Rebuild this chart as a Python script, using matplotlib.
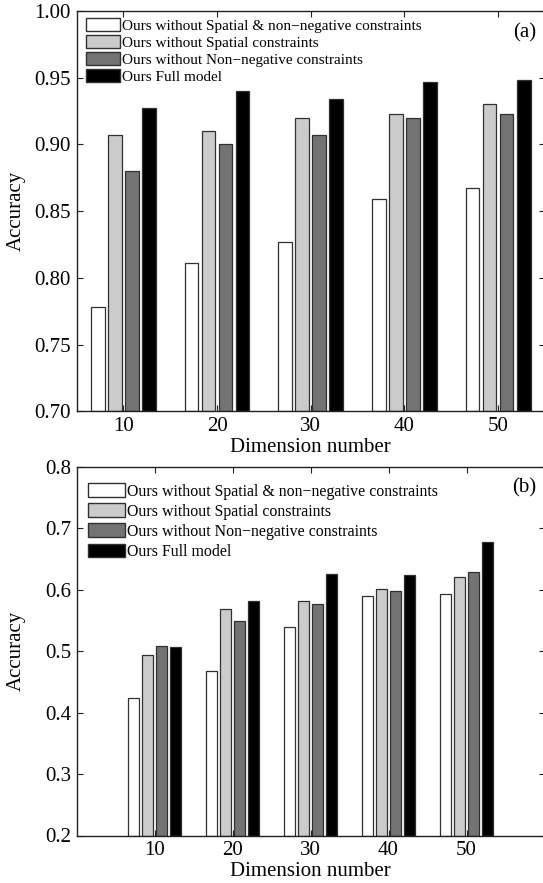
import matplotlib
matplotlib.use("Agg")
import matplotlib.pyplot as plt
import numpy as np

plt.rcParams['font.family'] = ['Liberation Serif', 'DejaVu Serif']
plt.rcParams['mathtext.fontset'] = 'stix'

dims = [10, 20, 30, 40, 50]
series_names = ["Ours without Spatial & non\u2212negative constraints",
                "Ours without Spatial constraints",
                "Ours without Non\u2212negative constraints",
                "Ours Full model"]

# Panel (a)
acc_a_no_spatial_nonneg = [0.778, 0.811, 0.827, 0.859, 0.867]
acc_a_no_spatial = [0.907, 0.910, 0.920, 0.923, 0.930]
acc_a_no_nonneg = [0.880, 0.900, 0.907, 0.920, 0.923]
acc_a_full = [0.927, 0.940, 0.934, 0.947, 0.948]

# Panel (b)
acc_b_no_spatial_nonneg = [0.423, 0.467, 0.539, 0.589, 0.593]
acc_b_no_spatial = [0.493, 0.568, 0.581, 0.601, 0.620]
acc_b_no_nonneg = [0.508, 0.549, 0.576, 0.597, 0.628]
acc_b_full = [0.507, 0.582, 0.625, 0.623, 0.677]

yticks_a = [0.70, 0.75, 0.80, 0.85, 0.90, 0.95, 1.00]
yticks_b = [0.2, 0.3, 0.4, 0.5, 0.6, 0.7, 0.8]

colors = ['#ffffff', '#cbcbcb', '#737373', '#000000']
edge = '#303030'

W, H = 543, 883
fig = plt.figure(figsize=(W / 100, H / 100), dpi=100)

ax_a = fig.add_axes([76.5 / W, (H - 411.3) / H, 468.5 / W, 400.3 / H])
ax_b = fig.add_axes([76.5 / W, (H - 835.5) / H, 468 / W, 368.8 / H])

FS = 15


def draw(ax, data, yticks, ylim, xlim, fmt, tag, tag_y, legfs, leg_anchor,
         labelspacing, handleheight, handlelength, axw):
    n = len(data)
    spacing = 10.0
    gw = min(0.8, n / (n + 1.5))
    slot = gw / n * spacing
    bw = slot * 0.8
    x = np.array(dims, dtype=float)
    handles = []
    for i, vals in enumerate(data):
        off = (-gw / 2 + (2 * i + 1) * gw / (2 * n)) * spacing
        b = ax.bar(x + off, np.array(vals) - ylim[0], bottom=ylim[0], width=bw,
                   color=colors[i], edgecolor=edge, linewidth=0.9,
                   label=series_names[i], zorder=2)
        handles.append(b)
    ax.set_xlim(*xlim)
    ax.set_ylim(*ylim)
    ax.set_xticks(dims)
    ax.set_xticklabels([str(d) for d in dims])
    ax.set_yticks(yticks)
    ax.set_yticklabels([fmt.format(t) for t in yticks])
    ax.tick_params(direction='in', length=4, width=0.8, top=True, right=True,
                   labelsize=FS, pad=4, color='#202020')
    for s in ax.spines.values():
        s.set_linewidth(1.0)
        s.set_color('#202020')
    ax.set_ylabel('Accuracy', fontsize=FS)
    ax.yaxis.set_label_coords((26 - 76.5) / axw, 0.5)
    ax.set_xlabel('Dimension number', fontsize=FS, labelpad=1.5)
    ax.text(0.957, tag_y, tag, transform=ax.transAxes, ha='center', va='center', fontsize=FS)
    leg = ax.legend(handles=handles, loc='upper left', bbox_to_anchor=leg_anchor,
                    frameon=False, fontsize=legfs, handlelength=handlelength,
                    handleheight=handleheight, handletextpad=0.12,
                    labelspacing=labelspacing, borderpad=0, borderaxespad=0)
    for p in leg.get_patches():
        p.set_linewidth(1.0)
        p.set_edgecolor('#303030')


draw(ax_a, [acc_a_no_spatial_nonneg, acc_a_no_spatial, acc_a_no_nonneg, acc_a_full],
     yticks_a, (0.70, 1.00), (5, 55), '{:.2f}', '(a)', 0.945, 11.0, (0.021, 0.982),
     0.16, 0.9, 2.2, 468.5)
draw(ax_b, [acc_b_no_spatial_nonneg, acc_b_no_spatial, acc_b_no_nonneg, acc_b_full],
     yticks_b, (0.2, 0.8), (0, 60), '{:.1f}', '(b)', 0.942, 11.4, (0.025, 0.955),
     0.24, 0.95, 2.3, 468)

fig.savefig('out.png', dpi=100)
